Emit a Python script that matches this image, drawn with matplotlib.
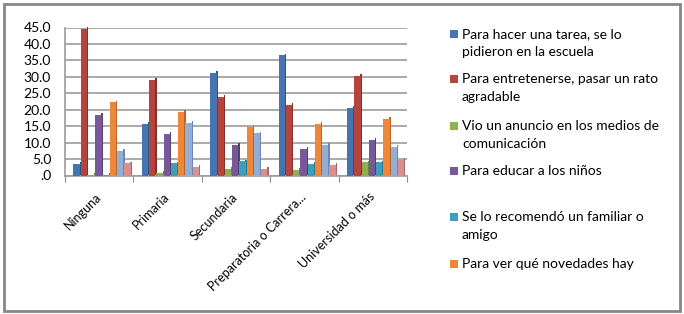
import matplotlib
matplotlib.use("Agg")
import matplotlib.pyplot as plt
from matplotlib.patches import Rectangle
import matplotlib.transforms as mtransforms
import numpy as np

categories = ["Ninguna", "Primaria", "Secundaria", "Preparatoria o Carrera...", "Universidad o más"]
series_names = [
    "Para hacer una tarea, se lo\npidieron en la escuela",
    "Para entretenerse, pasar un rato\nagradable",
    "Vio un anuncio en los medios de\ncomunicación",
    "Para educar a los niños",
    "Se lo recomendó un familiar o\namigo",
    "Para ver qué novedades hay",
    "Serie 7",
    "Serie 8",
]
values = [
    [3.5, 15.8, 31.3, 36.5, 20.5],   # tarea
    [44.5, 29.0, 24.0, 21.5, 30.2],  # entretenerse
    [0.3, 0.8, 1.9, 1.7, 4.0],       # anuncio
    [18.5, 12.7, 9.2, 8.1, 10.8],    # educar
    [0.3, 3.7, 4.3, 3.6, 4.0],       # recomendó
    [22.2, 19.3, 14.6, 15.8, 17.3],  # novedades
    [7.5, 15.9, 12.8, 9.4, 8.7],     # serie 7
    [3.7, 2.6, 2.0, 3.1, 4.8],       # serie 8
]
yticks = [0, 5, 10, 15, 20, 25, 30, 35, 40, 45]
ytick_labels = [".0", "5.0", "10.0", "15.0", "20.0", "25.0", "30.0", "35.0", "40.0", "45.0"]

front_colors = ["#4574B0", "#B5443F", "#8FB050", "#77599A", "#3F9FBA", "#EE873A", "#93AED6", "#D88F8D"]
side_colors = ["#2F5586", "#86302C", "#6A8538", "#553F73", "#2B7A90", "#B9652A", "#6C88B0", "#A86866"]

FONT = ["Lato", "DejaVu Sans"]
plt.rcParams["font.family"] = FONT

fig = plt.figure(figsize=(6.84, 3.14), dpi=100)
W, H = 684, 314
ax = fig.add_axes([65 / W, 1 - 175.5 / H, (407 - 65) / W, (175.5 - 27.5) / H])

x = np.arange(len(categories))
pitch = 0.106
fw = 0.092
sw = 0.02
for j, vals in enumerate(values):
    pos = x - 0.33 + pitch * j
    v = np.array(vals)
    ax.bar(pos + fw / 2 + sw / 2 - 0.002, v + 0.3, bottom=0.25, width=sw,
           color=side_colors[j], linewidth=0, zorder=3, clip_on=False)
    ax.bar(pos, v, width=fw, color=front_colors[j], linewidth=0, zorder=4)

ax.set_xlim(-0.5, len(categories) - 0.5)
ax.set_ylim(0, 45)
ax.set_yticks(yticks)
ax.set_yticklabels(ytick_labels, fontsize=10, color="#000000")
ax.yaxis.grid(True, color="#9c9c9c", linewidth=1.2, zorder=0)
ax.set_axisbelow(True)

ax.set_xticks(np.arange(len(categories) + 1) - 0.5)
ax.set_xticklabels([])
ax.set_xticks(x, minor=True)
ax.set_xticklabels(categories, minor=True, rotation=45, ha="right", va="center",
                   rotation_mode="anchor", fontsize=9)
shift = mtransforms.ScaledTranslation(4 / 100, 0, fig.dpi_scale_trans)
for lab in ax.get_xticklabels(minor=True):
    lab.set_transform(lab.get_transform() + shift)
ax.tick_params(axis="x", which="major", length=4, color="#8c8c8c", direction="out")
ax.tick_params(axis="x", which="minor", length=0, pad=14)
ax.tick_params(axis="y", length=0, pad=10)

for s in ["top", "right"]:
    ax.spines[s].set_visible(False)
ax.spines["left"].set_color("#9c9c9c")
ax.spines["bottom"].set_color("#9c9c9c")
ax.spines["left"].set_linewidth(1.2)
ax.spines["bottom"].set_linewidth(1.2)

# Manual legend (first six series), matching the clipped legend box
legend_rows = [34, 79, 126, 171, 217, 264]
for k in range(6):
    yc = legend_rows[k]
    fig.patches.append(Rectangle((450 / W, 1 - (yc + 4) / H), 8 / W, 8 / H,
                                 transform=fig.transFigure, facecolor=front_colors[k],
                                 edgecolor="none"))
    lines = series_names[k].split("\n")
    for li, txt in enumerate(lines):
        fig.text(462 / W, 1 - (yc + 18 * li) / H, txt, fontsize=10,
                 va="center", ha="left", color="#000000")

# Outer chart border
fig.patches.append(Rectangle((4 / W, 3 / H), (680 - 4) / W, (310 - 3) / H,
                             transform=fig.transFigure, facecolor="none",
                             edgecolor="#878787", linewidth=2))

fig.savefig("out.png", dpi=100)
